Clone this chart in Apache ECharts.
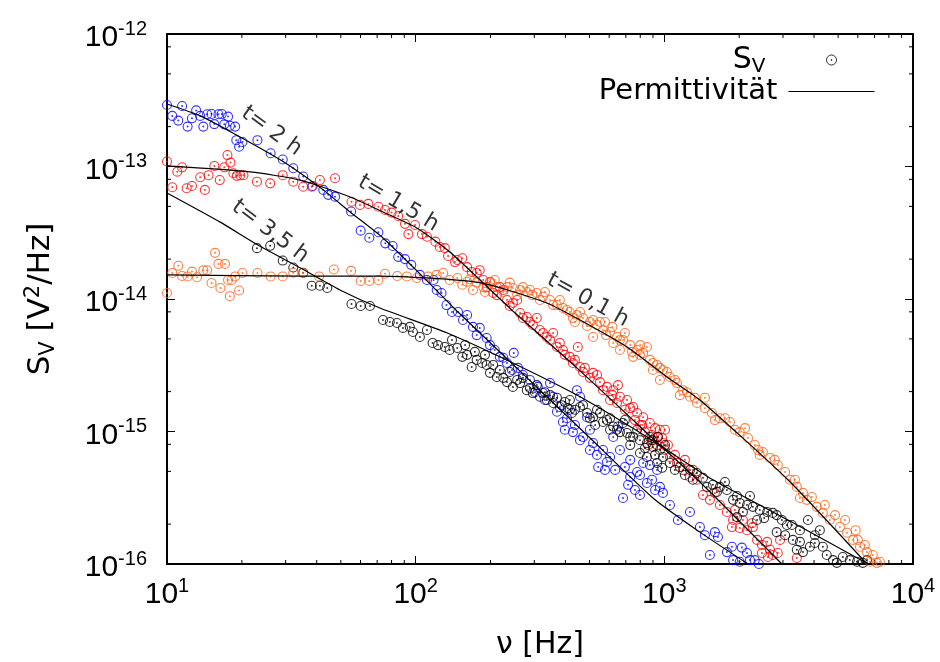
<!DOCTYPE html>
<html>
<head>
<meta charset="utf-8">
<script src="https://cdn.jsdelivr.net/npm/echarts@6/dist/echarts.min.js"></script>
<style>
  html, body { margin: 0; padding: 0; background: #fff; }
  #chart { width: 940px; height: 662px; }
</style>
</head>
<body>
<div id="chart"></div>
<script>
// measured S_V points [nu in Hz, S_V in V^2/Hz]
const blueData = [ // t = 2 h
  [10.0,2.91e-13],[10.5,2.41e-13],[11.1,2.22e-13],[11.5,2.86e-13],[12.1,2.0e-13],[12.6,2.31e-13],[13.1,2.65e-13],
  [13.6,2.41e-13],[14.0,2.0e-13],[14.5,2.48e-13],[15.1,2.49e-13],[15.5,2.09e-13],[16.1,2.48e-13],[16.6,2.49e-13],
  [17.0,2.08e-13],[17.6,2.38e-13],[17.9,2.03e-13],[18.8,2.0e-13],[19.0,1.58e-13],[19.5,1.41e-13],[20.1,1.53e-13],
  [23.1,1.58e-13],[26.1,1.26e-13],[29.2,1.13e-13],[32.2,9.7e-14],[35.3,8.4e-14],[38.5,7.13e-14],[42.5,6.66e-14],
  [44.5,6.11e-14],[47.4,5.92e-14],[55.0,4.57e-14],[60.1,3.28e-14],[65.1,2.9e-14],[70.8,3.19e-14],[75.5,2.63e-14],
  [80.8,2.51e-14],[85.1,2.08e-14],[90.6,2.0e-14],[96,1.81e-14],[104,1.52e-14],[111,1.39e-14],[118,1.39e-14],
  [121.5,1.17e-14],[127,1.11e-14],[133,9.0e-15],[140,7.98e-15],[148,7.98e-15],[155,6.94e-15],[161,7.57e-15],
  [170,6.16e-15],[176,5.34e-15],[181,6.05e-15],[193,5.08e-15],[199,4.49e-15],[208,4.12e-15],[218,3.66e-15],
  [225,3.6e-15],[233,3.29e-15],[244,2.91e-15],[248,3.92e-15],[258,3.02e-15],[270,2.67e-15],[288,2.45e-15],
  [302,1.98e-15],[310,2.17e-15],[325,1.95e-15],[331,1.73e-15],[347,2.32e-15],[357,1.83e-15],[370,1.41e-15],
  [380,1.53e-15],[391,1.18e-15],[398,1.03e-15],[406,1.26e-15],[417,1.46e-15],[429,9.9e-16],[437,1.12e-15],
  [445,2.05e-15],[458,1.83e-15],[458,8.6e-16],[471,9.1e-16],[489,1.28e-15],[502,7.25e-16],[502,1.03e-15],
  [517,8.18e-16],[536,6.66e-16],[542,5.39e-16],[567,7.25e-16],[577,5.13e-16],[588,5.89e-16],[605,6.42e-16],
  [623,9.1e-16],[634,5.13e-16],[651,1.09e-15],[663,7.25e-16],[682,3.15e-16],[694,5.39e-16],[715,3.96e-16],
  [729,4.54e-16],[729,6.11e-16],[762,3.62e-16],[777,4.95e-16],[798,3.32e-16],[798,4.7e-16],[822,5.78e-16],
  [851,4.09e-16],[875,5.58e-16],[892,4.32e-16],[918,3.62e-16],[935,5.13e-16],[960,3.82e-16],[987,3.44e-16],
  [1053,2.79e-16],[1134,2.15e-16],[1268,2.47e-16],[1390,1.9e-16],[1456,1.65e-16],[1525,1.17e-16],[1597,1.74e-16],
  [1643,1.6e-16],[1785,1.23e-16],[1870,1.35e-16],[1890,1.07e-16],[2010,1.04e-16],[2050,1.33e-16],[2150,1.21e-16],
  [2210,1.07e-16],[2310,1.07e-16],[2400,1.0e-16]
]
const redData = [ // t = 1,5 h
  [10.0,1.09e-13],[10.5,6.97e-14],[11.0,9.14e-14],[11.5,9.86e-14],[12.0,6.85e-14],[12.6,7.13e-14],[13.6,8.3e-14],
  [14.2,6.66e-14],[14.7,8.6e-14],[15.5,1.01e-13],[16.3,7.9e-14],[17.0,9.86e-14],[17.5,1.22e-13],[18.0,1.07e-13],
  [18.5,8.9e-14],[19.1,8.5e-14],[19.7,8.6e-14],[20.3,8.6e-14],[23.0,7.68e-14],[26.0,7.46e-14],[29.2,8.6e-14],
  [32.2,7.68e-14],[35.3,7.04e-14],[38.2,7.04e-14],[41.2,7.9e-14],[47.4,8.15e-14],[55.2,5.42e-14],[59.7,5.13e-14],
  [64.5,5.22e-14],[70.8,4.97e-14],[75.3,4.7e-14],[80.0,4.49e-14],[85.1,4.23e-14],[90.6,3.69e-14],[93.5,3.09e-14],
  [99.4,3.62e-14],[106,3.09e-14],[111,2.95e-14],[120,2.71e-14],[125,2.47e-14],[131,2.42e-14],[135,2.11e-14],
  [144,1.9e-14],[147,1.97e-14],[154,2.03e-14],[161,1.74e-14],[168,1.6e-14],[176,1.57e-14],[181,1.65e-14],
  [187,1.39e-14],[193,1.23e-14],[199,1.35e-14],[205,1.11e-14],[212,1.07e-14],[218,1.23e-14],[225,1.17e-14],
  [233,9.83e-15],[239,8.86e-15],[246,9.33e-15],[256,9.83e-15],[263,7.84e-15],[270,7.19e-15],[280,7.31e-15],
  [288,6.7e-15],[296,6.36e-15],[307,7.19e-15],[316,5.84e-15],[325,5.54e-15],[337,5.17e-15],[347,4.91e-15],
  [357,5.54e-15],[370,4.34e-15],[380,4.66e-15],[391,4.12e-15],[398,3.79e-15],[417,3.66e-15],[429,3.29e-15],
  [437,3.47e-15],[449,4.34e-15],[458,3.07e-15],[471,2.81e-15],[479,3.02e-15],[502,2.54e-15],[517,2.77e-15],
  [536,2.67e-15],[551,2.36e-15],[567,2.05e-15],[588,2.17e-15],[605,1.73e-15],[618,1.88e-15],[623,2.05e-15],
  [645,1.64e-15],[651,2.24e-15],[663,1.83e-15],[694,1.46e-15],[708,1.73e-15],[729,1.5e-15],[749,1.53e-15],
  [762,1.22e-15],[777,1.38e-15],[800,1.12e-15],[815,1.12e-15],[822,1.28e-15],[836,9.9e-16],[860,7.9e-16],
  [875,1.16e-15],[892,9.41e-16],[900,8.6e-16],[918,1.06e-15],[935,7.9e-16],[942,9.1e-16],[960,1.03e-15],
  [980,8.93e-16],[987,8.18e-16],[1006,7.25e-16],[1006,1.03e-15],[1034,7.9e-16],[1053,6.42e-16],[1103,6.66e-16],
  [1124,5.78e-16],[1188,5.13e-16],[1210,6.11e-16],[1268,4.54e-16],[1303,5.13e-16],[1352,4.32e-16],
  [1430,3.32e-16],[1525,3.05e-16],[1597,3.44e-16],[1673,2.79e-16],[1785,2.47e-16],[1870,1.9e-16],[1890,2.15e-16],
  [1922,2.56e-16],[2010,1.87e-16],[2070,2.15e-16],[2150,1.8e-16],[2250,2.03e-16],[2270,1.9e-16],[2360,1.52e-16],
  [2470,1.39e-16],[2470,1.21e-16],[2590,1.47e-16],[2610,1.13e-16],[2660,1.28e-16],[2730,1.17e-16],[2860,1.21e-16],
  [2920,1.52e-16],[3410,1.11e-16]
]
const blackData = [ // t = 3,5 h
  [23.0,2.42e-14],[26.0,2.52e-14],[29.2,1.95e-14],[32.2,1.73e-14],[35.3,1.58e-14],[38.2,1.26e-14],[41.2,1.26e-14],
  [44.1,1.21e-14],[55.2,9.17e-15],[60.1,8.86e-15],[65.5,8.86e-15],[73.9,6.94e-15],[78.7,6.7e-15],[84.1,6.59e-15],
  [88.9,6.05e-15],[94.7,6.16e-15],[97.5,5.64e-15],[104,5.17e-15],[111,5.84e-15],[117,4.66e-15],[123,4.49e-15],
  [131,4.34e-15],[137,4.12e-15],[140,4.91e-15],[147,4.27e-15],[154,3.66e-15],[158,4.49e-15],[161,3.79e-15],
  [168,3.07e-15],[173,3.99e-15],[176,3.47e-15],[185,3.29e-15],[190,3.79e-15],[193,3.18e-15],[199,2.77e-15],
  [205,3.18e-15],[212,2.58e-15],[218,2.91e-15],[225,2.54e-15],[233,2.36e-15],[239,2.81e-15],[246,2.17e-15],
  [256,2.45e-15],[263,2.32e-15],[270,2.54e-15],[280,2.05e-15],[288,2.13e-15],[296,1.95e-15],[307,2.24e-15],
  [316,1.83e-15],[331,1.98e-15],[337,1.73e-15],[347,1.88e-15],[357,1.64e-15],[370,1.8e-15],[387,1.58e-15],
  [398,1.67e-15],[409,1.5e-15],[417,1.73e-15],[425,1.38e-15],[437,1.46e-15],[458,1.53e-15],[471,1.58e-15],
  [489,1.38e-15],[502,1.26e-15],[517,1.28e-15],[527,1.12e-15],[536,1.46e-15],[551,1.38e-15],[567,1.18e-15],
  [588,1.22e-15],[605,1.03e-15],[605,1.26e-15],[623,1.09e-15],[645,1.03e-15],[663,9.9e-16],[682,1.16e-15],
  [694,1.22e-15],[708,9.74e-16],[729,7.9e-16],[729,9.1e-16],[749,9.1e-16],[777,1.03e-15],[798,8.6e-16],
  [798,6.88e-16],[836,7.5e-16],[851,8.18e-16],[851,6.42e-16],[875,9.1e-16],[892,8.6e-16],[900,7.64e-16],
  [918,6.66e-16],[935,5.78e-16],[942,9.1e-16],[960,7.25e-16],[980,5.32e-16],[987,6.42e-16],[1006,7.9e-16],
  [1053,5.78e-16],[1103,5.13e-16],[1155,5.39e-16],[1210,4.7e-16],[1268,5.13e-16],[1303,4.32e-16],[1352,4.86e-16],
  [1430,4.48e-16],[1483,3.82e-16],[1568,3.96e-16],[1627,3.5e-16],[1673,3.82e-16],[1753,4.16e-16],[1785,3.62e-16],
  [1890,3.05e-16],[1960,2.26e-16],[1960,3.26e-16],[2010,2.89e-16],[2070,2.47e-16],[2150,2.79e-16],[2210,3.26e-16],
  [2270,2.7e-16],[2360,2.15e-16],[2420,2.56e-16],[2520,2.22e-16],[2590,2.47e-16],[2730,2.43e-16],[2830,1.74e-16],
  [2830,2.34e-16],[2970,2.15e-16],[3060,1.65e-16],[3110,1.97e-16],[3260,1.97e-16],[3290,1.52e-16],[3410,1.28e-16],
  [3510,1.47e-16],[3510,1.8e-16],[3610,1.23e-16],[3780,2.15e-16],[3850,1.35e-16],[4030,1.65e-16],[4030,1.44e-16],
  [4220,1.8e-16],[4340,1.35e-16],[4500,1.17e-16],[4770,1.07e-16],[4940,1.02e-16],[5220,1.13e-16],[5570,1.07e-16],
  [5950,1.04e-16],[6280,1.02e-16],[6530,1.07e-16]
]
const orangeData = [ // t = 0,1 h
  [10.0,1.11e-14],[10.5,1.57e-14],[11.1,1.78e-14],[11.5,1.49e-14],[12.1,1.48e-14],[12.6,1.61e-14],[13.2,1.46e-14],
  [14.0,1.65e-14],[14.5,1.65e-14],[15.1,1.32e-14],[15.6,2.23e-14],[16.1,1.84e-14],[16.4,1.21e-14],[17.1,1.84e-14],
  [17.6,1.39e-14],[17.9,1.05e-14],[18.2,1.39e-14],[18.8,1.48e-14],[19.5,1.16e-14],[20.1,1.57e-14],[23.1,1.57e-14],
  [26.1,1.48e-14],[29.2,1.48e-14],[32.2,1.58e-14],[35.3,1.57e-14],[40.9,1.48e-14],[46.9,1.67e-14],[55.0,1.63e-14],
  [60.1,1.37e-14],[65.1,1.37e-14],[70.8,1.39e-14],[75.3,1.55e-14],[84.3,1.49e-14],[92.1,1.48e-14],[101,1.44e-14],
  [112,1.48e-14],[121.5,1.52e-14],[129,1.57e-14],[137,1.39e-14],[147,1.44e-14],[154,1.28e-14],[161,1.35e-14],
  [165,1.41e-14],[170,1.17e-14],[176,1.33e-14],[187,1.23e-14],[190,1.13e-14],[199,1.33e-14],[208,1.39e-14],
  [212,1.23e-14],[225,1.13e-14],[233,1.23e-14],[239,1.33e-14],[246,1.21e-14],[256,1.07e-14],[263,1.17e-14],
  [270,1.23e-14],[280,1.13e-14],[288,1.17e-14],[294,1.07e-14],[307,1.11e-14],[316,9.83e-15],[325,1.04e-14],
  [331,1.13e-14],[347,9.83e-15],[357,9.0e-15],[370,9.0e-15],[380,9.83e-15],[391,8.56e-15],[406,8.26e-15],
  [417,7.98e-15],[429,7.19e-15],[437,6.7e-15],[445,7.57e-15],[458,7.98e-15],[471,7.19e-15],[489,6.26e-15],
  [502,6.7e-15],[517,5.17e-15],[517,6.94e-15],[536,6.36e-15],[551,6.7e-15],[567,5.84e-15],[577,6.7e-15],
  [583,5.34e-15],[605,5.64e-15],[618,6.16e-15],[623,4.66e-15],[645,5.17e-15],[663,4.12e-15],[663,4.91e-15],
  [682,4.91e-15],[694,5.54e-15],[729,4.49e-15],[741,3.99e-15],[749,3.66e-15],[777,4.12e-15],[798,3.79e-15],
  [800,4.49e-15],[822,3.92e-15],[851,4.34e-15],[875,3.47e-15],[900,2.91e-15],[900,3.29e-15],[935,3.18e-15],
  [960,2.45e-15],[960,3.02e-15],[987,2.91e-15],[1024,2.81e-15],[1053,2.58e-15],[1103,2.45e-15],[1124,2.32e-15],
  [1155,1.88e-15],[1188,2.05e-15],[1233,1.98e-15],[1268,1.83e-15],[1327,1.8e-15],[1352,1.64e-15],[1456,1.5e-15],
  [1456,1.8e-15],[1554,1.38e-15],[1597,1.22e-15],[1673,1.26e-15],[1753,1.26e-15],[1836,1.18e-15],[1920,1.03e-15],
  [2010,9.9e-16],[2110,1.06e-15],[2170,8.93e-16],[2310,7.9e-16],[2380,7.25e-16],[2420,6.66e-16],[2490,7.0e-16],
  [2660,6.31e-16],[2780,6.11e-16],[2860,5.58e-16],[3060,4.95e-16],[3200,4.32e-16],[3350,4.32e-16],[3410,3.82e-16],
  [3510,3.15e-16],[3610,3.44e-16],[3740,3.05e-16],[3920,3.2e-16],[4100,2.7e-16],[4340,2.43e-16],[4420,2.79e-16],
  [4630,2.15e-16],[4860,2.34e-16],[5080,1.9e-16],[5330,2.15e-16],[5430,1.72e-16],[5740,1.52e-16],[5880,1.8e-16],
  [6000,1.52e-16],[6120,1.35e-16],[6400,1.39e-16],[6530,1.23e-16],[6710,1.04e-16],[6890,1.17e-16],[7160,1.02e-16],
  [7360,1.04e-16]
]

// Permittivität curves
const blueFit = [[10,2.96e-13],[13.6,2.41e-13],[18.4,1.79e-13],[29.3,1.09e-13],[42.5,6.66e-14],[54.5,4.54e-14],
  [73.9,2.89e-14],[107,1.47e-14],[148,7.98e-15],[270,2.72e-15],[493,9.25e-16],[900,3.15e-16],[1390,1.74e-16],[2170,1.0e-16]]
const redFit = [[10,1.01e-13],[21.6,9.1e-14],[34.3,7.9e-14],[54.5,5.89e-14],[73.9,4.54e-14],[101,3.44e-14],
  [137,2.27e-14],[246,8.12e-15],[445,3.02e-15],[851,9.74e-16],[1390,4.16e-16],[2970,1.0e-16]]
const blackFit = [[10,6.31e-14],[16.3,3.82e-14],[23.6,2.51e-14],[34.3,1.72e-14],[49.6,1.17e-14],[71.8,8.56e-15],
  [134,5.54e-15],[246,3.29e-15],[458,1.83e-15],[851,9.1e-16],[1568,4.32e-16],[3200,2.11e-16],[6600,1.0e-16]]
const orangeFit = [[10,1.52e-14],[34.3,1.49e-14],[71.8,1.49e-14],[181,1.33e-14],[337,9.33e-15],[458,6.94e-15],
  [708,4.34e-15],[1024,2.58e-15],[1390,1.73e-15],[3140,4.32e-16],[6530,1.0e-16]]

// curve annotations
const noteText = ['t= 2 h', 't= 1,5 h', 't= 3,5 h', 't= 0,1 h']
const noteNu = [26.3, 85.2, 26.0, 493]
const noteS = [1.85e-13, 5.26e-14, 3.23e-14, 9.83e-15]
const noteAngle = [-36, -31, -37, -29]

// tick values
const xMinor = [20, 30, 40, 50, 60, 70, 80, 90, 200, 300, 400, 500, 600, 700, 800, 900,
  2000, 3000, 4000, 5000, 6000, 7000, 8000, 9000]
const yMinor = [2e-16, 5e-16, 8e-16, 2e-15, 5e-15, 8e-15, 2e-14, 5e-14, 8e-14, 2e-13, 5e-13, 8e-13]

const ringPath = 'path://M10,0A10,10,0,1,1,-10,0A10,10,0,1,1,10,0ZM1,0A1,1,0,1,1,-1,0A1,1,0,1,1,1,0Z'

const chart = echarts.init(document.getElementById('chart'))

const powLabel = {
  formatter: (v) => '{b|10}{s|' + Math.round(Math.log10(v)) + '}',
  rich: {
    b: { fontFamily: 'Liberation Sans', fontSize: 30, lineHeight: 30, padding: [8, 0, 0, 0], color: '#000' },
    s: { fontFamily: 'Liberation Sans', fontSize: 20, lineHeight: 21, verticalAlign: 'top', color: '#000' },
  },
}

const frameLine = { show: true, onZero: false, lineStyle: { color: '#000', width: 2 } }
const majorTick = { show: true, inside: true, length: 8, lineStyle: { color: '#000', width: 1 } }

const scatterSeries = (name, data, color) => ({
  name,
  type: 'scatter',
  data,
  symbol: ringPath,
  symbolSize: 9,
  clip: false,
  silent: true,
  itemStyle: { color: 'transparent', borderColor: color, borderWidth: 1.1 },
})

const fitSeries = (data) => ({
  name: 'Permittivität',
  type: 'line',
  data,
  symbol: 'none',
  smooth: 0.2,
  silent: true,
  z: 3,
  lineStyle: { color: '#000', width: 1.2 },
  itemStyle: { color: '#000' },
})

const options = {
  animation: false,
  backgroundColor: '#fff',
  grid: { left: 167, right: 27, top: 34, bottom: 98, containLabel: false, outerBoundsMode: 'none' },
  legend: [
    {
      data: [{ name: 'S_V', icon: ringPath }],
      right: 103,
      top: 45,
      padding: 0,
      align: 'right',
      itemWidth: 10,
      itemHeight: 10,
      selectedMode: false,
      itemStyle: { color: 'transparent', borderColor: '#000', borderWidth: 1 },
      formatter: () => '{a|S}{b|V}',
      textStyle: {
        padding: [0, 56, 0, 0],
        rich: {
          a: { fontFamily: 'DejaVu Sans', fontSize: 30, lineHeight: 34, color: '#000' },
          b: { fontFamily: 'DejaVu Sans', fontSize: 20, lineHeight: 14, verticalAlign: 'bottom', color: '#000' },
        },
      },
    },
    {
      data: ['Permittivität'],
      right: 65,
      top: 77,
      padding: 0,
      align: 'right',
      itemWidth: 86,
      itemHeight: 14,
      selectedMode: false,
      itemStyle: { color: 'transparent', borderColor: 'transparent', borderWidth: 0 },
      lineStyle: { color: '#000', width: 1.2 },
      textStyle: { fontFamily: 'DejaVu Sans', fontSize: 29, color: '#000', padding: [0, 6, 0, 0] },
    },
  ],
  xAxis: [
    {
      type: 'log',
      logBase: 10,
      min: 10,
      max: 10000,
      position: 'bottom',
      axisLine: frameLine,
      axisTick: majorTick,
      splitLine: { show: false },
      axisLabel: { ...powLabel, margin: 12 },
      name: 'ν [Hz]',
      nameLocation: 'middle',
      nameGap: 66,
      nameTextStyle: { fontFamily: 'DejaVu Sans', fontSize: 30, color: '#000' },
    },
    {
      type: 'log',
      logBase: 10,
      min: 10,
      max: 10000,
      position: 'top',
      axisLine: frameLine,
      axisTick: majorTick,
      splitLine: { show: false },
      axisLabel: { show: false },
    },
  ],
  yAxis: [
    {
      type: 'log',
      logBase: 10,
      min: 1e-16,
      max: 1e-12,
      position: 'left',
      axisLine: frameLine,
      axisTick: majorTick,
      splitLine: { show: false },
      axisLabel: { ...powLabel, margin: 20 },
      name: '{a|S}{b|V}{a| [V}{c|2}{a|/Hz]}',
      nameLocation: 'middle',
      nameRotate: 90,
      nameGap: 108,
      nameTextStyle: {
        rich: {
          a: { fontFamily: 'DejaVu Sans', fontSize: 31, lineHeight: 36, color: '#000' },
          b: { fontFamily: 'DejaVu Sans', fontSize: 21, lineHeight: 14, verticalAlign: 'bottom', color: '#000' },
          c: { fontFamily: 'DejaVu Sans', fontSize: 21, lineHeight: 18, verticalAlign: 'top', color: '#000' },
        },
      },
    },
    {
      type: 'log',
      logBase: 10,
      min: 1e-16,
      max: 1e-12,
      position: 'right',
      axisLine: frameLine,
      axisTick: majorTick,
      splitLine: { show: false },
      axisLabel: { show: false },
    },
  ],
  series: [
    scatterSeries('t=2h', blueData, '#0000ff'),
    scatterSeries('t=1.5h', redData, '#ff0000'),
    scatterSeries('t=3.5h', blackData, '#000000'),
    scatterSeries('t=0.1h', orangeData, '#ff6014'),
    scatterSeries('S_V', [], '#000000'),
    fitSeries(blueFit),
    fitSeries(redFit),
    fitSeries(blackFit),
    fitSeries(orangeFit),
    {
      // minor ticks of the x axis, bottom and top, inward
      type: 'custom',
      silent: true,
      clip: false,
      data: xMinor.map((v) => [v, 1e-16]),
      renderItem: (params, api) => {
        const v = api.value(0)
        const b = api.coord([v, 1e-16])
        const t = api.coord([v, 1e-12])
        const style = { stroke: '#000', lineWidth: 1 }
        return {
          type: 'group',
          children: [
            { type: 'line', shape: { x1: b[0], y1: b[1], x2: b[0], y2: b[1] - 4 }, style },
            { type: 'line', shape: { x1: t[0], y1: t[1], x2: t[0], y2: t[1] + 4 }, style },
          ],
        }
      },
    },
    {
      // minor ticks of the y axis, left and right, inward
      type: 'custom',
      silent: true,
      clip: false,
      data: yMinor.map((v) => [10, v]),
      renderItem: (params, api) => {
        const v = api.value(1)
        const l = api.coord([10, v])
        const r = api.coord([10000, v])
        const style = { stroke: '#000', lineWidth: 1 }
        return {
          type: 'group',
          children: [
            { type: 'line', shape: { x1: l[0], y1: l[1], x2: l[0] + 4, y2: l[1] }, style },
            { type: 'line', shape: { x1: r[0], y1: r[1], x2: r[0] - 4, y2: r[1] }, style },
          ],
        }
      },
    },
    {
      // rotated curve labels
      name: 'notes',
      type: 'scatter',
      symbolSize: 0,
      silent: true,
      clip: false,
      z: 4,
      data: noteText.map((txt, i) => ({
        value: [noteNu[i], noteS[i]],
        name: txt,
        label: { rotate: noteAngle[i] },
      })),
      label: {
        show: true,
        position: 'inside',
        formatter: (p) => p.name,
        fontFamily: 'DejaVu Sans',
        fontSize: 22,
        color: '#000',
      },
    },
  ],
}

chart.setOption(options, true)
</script>
</body>
</html>
